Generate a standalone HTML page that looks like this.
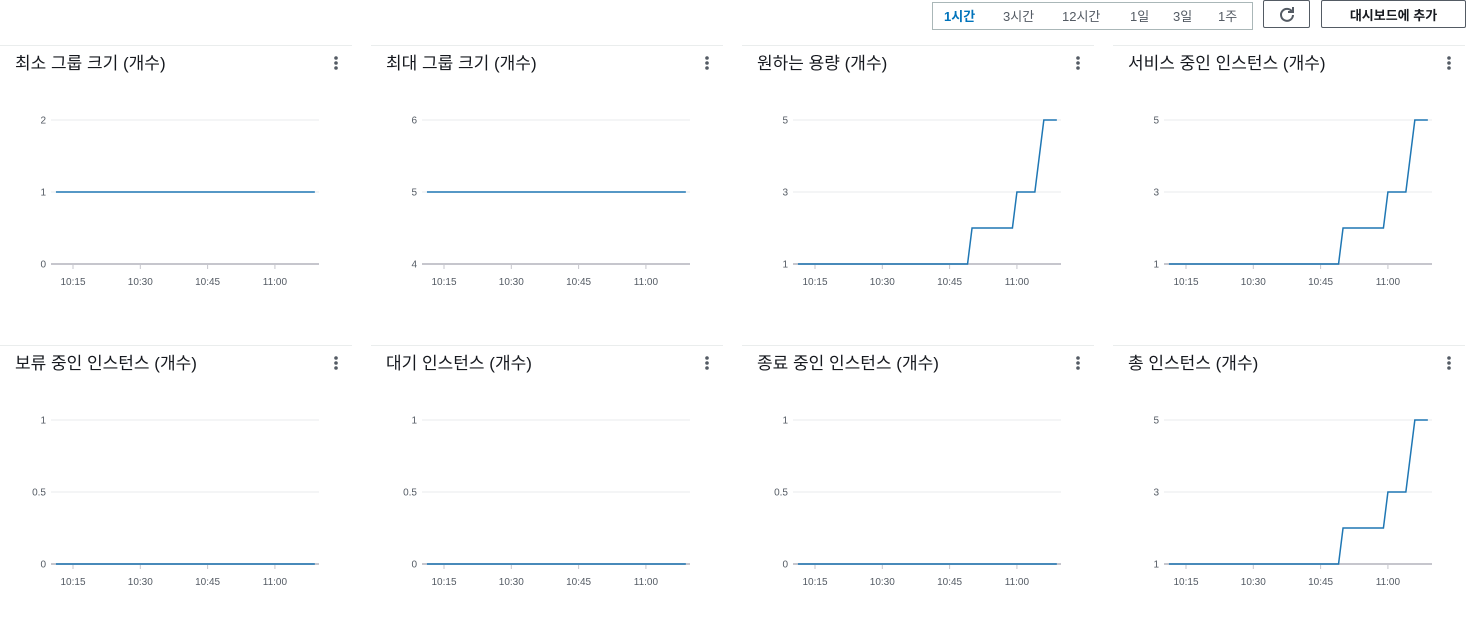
<!DOCTYPE html>
<html><head><meta charset="utf-8">
<style>
body{margin:0;width:1471px;height:616px;background:#fff;font-family:"Liberation Sans","Noto Sans CJK KR",sans-serif;position:relative;overflow:hidden}
.seg{position:absolute;left:932px;top:2px;width:319px;height:26px;border:1px solid #aab7b8;display:flex;align-items:center;font-size:13px;color:#545b64}
.seg span{position:absolute;top:3px}
.btn{position:absolute;top:0;height:28px;border:1px solid #545b64;border-radius:2px;background:#fff;box-sizing:border-box;font-size:13px;color:#16191f;display:flex;align-items:center;justify-content:center}
.panel{position:absolute;width:352px;height:290px;border-top:1px solid #eaeded}
.title{position:absolute;left:15px;top:3px;font-size:17px;color:#16191f;white-space:nowrap}
.kebab{position:absolute;left:333px;top:9px;width:6px;height:16px}
svg{position:absolute;left:0;top:0}
</style></head><body>
<div class="seg">
<span style="left:11px;color:#0073bb;font-weight:bold">1시간</span>
<span style="left:70px">3시간</span>
<span style="left:129px">12시간</span>
<span style="left:197px">1일</span>
<span style="left:240px">3일</span>
<span style="left:285px">1주</span>
</div>
<div class="btn" style="left:1263px;width:47px"><svg style="position:static" width="18" height="18" viewBox="0 0 18 18"><path d="M14 6.5A6 6 0 1 0 15 10" fill="none" stroke="#545b64" stroke-width="2"/><path d="M15 2v5h-5" fill="none" stroke="#545b64" stroke-width="2"/></svg></div>
<div class="btn" style="left:1321px;width:145px;font-weight:bold">대시보드에 추가</div>
<div id="panels"></div>
<script>
// time in minutes after 10:00
const stepTimes=[11.2,49,50,59,60,64,66,68.9];
const stepValues=[1,1,2,2,3,3,5,5];
const flatTimes=[11.2,68.9];
const xTickLabels=["10:15","10:30","10:45","11:00"];
const xTickMinutes=[15,30,45,60];
const titles=["최소 그룹 크기 (개수)","최대 그룹 크기 (개수)","원하는 용량 (개수)","서비스 중인 인스턴스 (개수)","보류 중인 인스턴스 (개수)","대기 인스턴스 (개수)","종료 중인 인스턴스 (개수)","총 인스턴스 (개수)"];
const yTicks=[[0,1,2],[4,5,6],[1,3,5],[1,3,5],[0,0.5,1],[0,0.5,1],[0,0.5,1],[1,3,5]];
const flatValues=[1,5,null,null,0,0,0,null];
const lefts=[0,371,742,1113];
const NS="http://www.w3.org/2000/svg";
function xS(m){return 73+(m-15)*4.487;}
const root=document.getElementById('panels');
titles.forEach((t,i)=>{
 const p=document.createElement('div');p.className='panel';
 
 
 const top=i<4?45:345;
 p.style.left=lefts[i%4]+'px';p.style.top=top+'px';
 const ti=document.createElement('div');ti.className='title';ti.textContent=t;
 
 
 p.appendChild(ti);
 const kb=document.createElement('div');kb.className='kebab';
 
 
 kb.innerHTML='<svg width="6" height="16"><circle cx="3" cy="3" r="1.8" fill="#545b64"/><circle cx="3" cy="8" r="1.8" fill="#545b64"/><circle cx="3" cy="13" r="1.8" fill="#545b64"/></svg>';
 p.appendChild(kb);
 const svg=document.createElementNS(NS,'svg');svg.setAttribute('width',352);svg.setAttribute('height',290);
 const yt=yTicks[i];const y0=218,y1=74;
 const yS=v=>y0-(v-yt[0])/(yt[2]-yt[0])*(y0-y1);
 let h='';
 yt.forEach((v,k)=>{const y=yS(v);
  if(k>0)h+=`<line x1="51" x2="319" y1="${y}" y2="${y}" stroke="#e9ebed" stroke-width="1"/>`;
  h+=`<text x="46" y="${y+3.5}" text-anchor="end" font-size="10" fill="#545b64">${v}</text>`;});
 h+=`<line x1="51" x2="319" y1="${y0}" y2="${y0}" stroke="#c6c6cd" stroke-width="2"/>`;
 xTickMinutes.forEach((m,k)=>{const x=xS(m);
  h+=`<line x1="${x}" x2="${x}" y1="${y0+1}" y2="${y0+5}" stroke="#c6c6cd"/>`;
  h+=`<text x="${x}" y="${y0+21}" text-anchor="middle" font-size="10" fill="#545b64">${xTickLabels[k]}</text>`;});
 let pts;
 if(flatValues[i]!==null) pts=flatTimes.map(m=>xS(m)+','+yS(flatValues[i]));
 else pts=stepTimes.map((m,k)=>xS(m)+','+yS(stepValues[k]));
 h+=`<polyline points="${pts.join(' ')}" fill="none" stroke="#1f77b4" stroke-width="1.5"/>`;
 svg.innerHTML=h;
 
 
 p.appendChild(svg);root.appendChild(p);
});
</script>
</body></html>
